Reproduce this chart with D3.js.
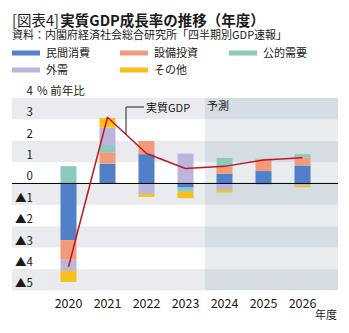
<!DOCTYPE html>
<html>
<head>
<meta charset="utf-8">
<script src="https://cdn.jsdelivr.net/npm/d3@7"></script>
<style>
  body { margin: 0; background: #fff; }
  svg { display: block; font-family: "Noto Sans CJK JP", "Noto Sans", sans-serif; }
</style>
</head>
<body>
<div id="chart"></div>
<script>
const years = ["2020", "2021", "2022", "2023", "2024", "2025", "2026"];
const privateCons = [-2.65, 0.92, 1.37, -0.19, 0.46, 0.58, 0.84];
const capex = [-0.92, 0.54, 0.62, 0, 0.33, 0.55, 0.37];
const publicDemand = [0.81, 0.34, 0, -0.2, 0.4, 0.03, 0.16];
const netExports = [-0.52, 0.82, -0.5, 1.4, -0.31, -0.06, -0.1];
const others = [-0.52, 0.45, -0.13, -0.3, -0.11, 0, -0.08];
const realGDP = [-3.9, 3.1, 1.4, 0.7, 0.8, 1.1, 1.2];
const yTicks = [3, 2, 1, 0, -1, -2, -3, -4, -5];
const forecastFrom = "2024";

const series = [
  {key: "private", name: "民間消費", color: "#4f80c8", values: privateCons},
  {key: "capex", name: "設備投資", color: "#f29a7c", values: capex},
  {key: "public", name: "公的需要", color: "#8ccabd", values: publicDemand},
  {key: "external", name: "外需", color: "#bcb6dc", values: netExports},
  {key: "other", name: "その他", color: "#f6c21a", values: others}
];

const width = 349, height = 333;
const plotLeft = 12, plotRight = 338;

const svg = d3.select("#chart").append("svg")
  .attr("width", width)
  .attr("height", height)
  .attr("viewBox", [0, 0, width, height]);

// title + source
const tag = svg.append("text").attr("x", 12).attr("y", 26).attr("font-size", 14.5).attr("fill", "#1a1a1a")
  .text("[図表4]");
const tagW = tag.node().getComputedTextLength();
svg.append("text").attr("x", 12 + tagW + 1.5).attr("y", 26).attr("font-size", 14.5)
  .attr("font-weight", "bold").attr("fill", "#1a1a1a")
  .text("実質GDP成長率の推移（年度）");
svg.append("text").attr("x", 12).attr("y", 39).attr("font-size", 11).attr("fill", "#1a1a1a")
  .text("資料：内閣府経済社会総合研究所「四半期別GDP速報」");

// legend
const legendPos = [[12, 53], [120, 53], [229, 53], [12, 70], [120, 70]];
const legend = svg.append("g")
  .selectAll("g")
  .data(series)
  .join("g")
  .attr("transform", (d, i) => `translate(${legendPos[i][0]},${legendPos[i][1]})`);
legend.append("rect").attr("x", 0).attr("y", -2.5).attr("width", 28).attr("height", 5).attr("fill", d => d.color);
legend.append("text").attr("x", 34).attr("y", 4).attr("font-size", 11).attr("fill", "#1a1a1a").text(d => d.name);

const x = d3.scaleBand()
  .domain(years)
  .range([49, 322])
  .paddingInner(0.59)
  .paddingOuter(0.295);
const y = d3.scaleLinear()
  .domain([-5, 4])
  .range([290.3, 98]);

const splitX = (x(years[years.indexOf(forecastFrom) - 1]) + x(forecastFrom) + x.bandwidth()) / 2;

// background stripes, darker in forecast area
const bands = d3.range(-5, 4);
svg.append("g")
  .selectAll("rect")
  .data(bands)
  .join("rect")
  .attr("x", plotLeft)
  .attr("y", d => y(d + 1))
  .attr("width", splitX - plotLeft)
  .attr("height", d => y(d) - y(d + 1))
  .attr("fill", d => Math.abs(d) % 2 === 1 ? "#e9ebee" : "#ffffff");
svg.append("g")
  .selectAll("rect")
  .data(bands)
  .join("rect")
  .attr("x", splitX)
  .attr("y", d => y(d + 1))
  .attr("width", plotRight - splitX)
  .attr("height", d => y(d) - y(d + 1))
  .attr("fill", d => Math.abs(d) % 2 === 1 ? "#d6dde2" : "#e8ecef");

svg.append("text").attr("x", splitX + 2).attr("y", y(4) + 12).attr("font-size", 11).attr("fill", "#1a1a1a").text("予測");

// stacked contributions
const table = years.map((yr, i) => {
  const row = {year: yr};
  series.forEach(s => row[s.key] = s.values[i]);
  return row;
});
const stacked = d3.stack()
  .keys(series.map(s => s.key))
  .offset(d3.stackOffsetDiverging)(table);

svg.append("g")
  .selectAll("g")
  .data(stacked)
  .join("g")
  .attr("fill", (d, i) => series[i].color)
  .selectAll("rect")
  .data(d => d)
  .join("rect")
  .attr("x", d => x(d.data.year))
  .attr("y", d => y(Math.max(d[0], d[1])))
  .attr("width", x.bandwidth())
  .attr("height", d => Math.abs(y(d[0]) - y(d[1])));

// zero line
svg.append("line")
  .attr("x1", plotLeft).attr("x2", plotRight)
  .attr("y1", y(0)).attr("y2", y(0))
  .attr("stroke", "#000").attr("stroke-width", 1);

// real GDP line
const line = d3.line()
  .x((d, i) => x(years[i]) + x.bandwidth() / 2)
  .y(d => y(d));
svg.append("path")
  .datum(realGDP)
  .attr("fill", "none")
  .attr("stroke", "#c4161c")
  .attr("stroke-width", 1.5)
  .attr("stroke-linejoin", "round")
  .attr("d", line);

// leader label for the GDP line
const lx = 126;
const x0 = x(years[1]) + x.bandwidth() / 2, x1 = x(years[2]) + x.bandwidth() / 2;
const ly = y(realGDP[1]) + (y(realGDP[2]) - y(realGDP[1])) * (lx - x0) / (x1 - x0);
svg.append("path")
  .attr("d", `M${lx},${ly}V107H144`)
  .attr("fill", "none")
  .attr("stroke", "#222")
  .attr("stroke-width", 1);
svg.append("text").attr("x", 146).attr("y", 111.5).attr("font-size", 11).attr("fill", "#1a1a1a").text("実質GDP");

// y axis labels sit just above their gridline
const yLabels = svg.append("g").attr("font-size", 11.5).attr("fill", "#1a1a1a").attr("text-anchor", "end");
yLabels.selectAll("text")
  .data(yTicks)
  .join("text")
  .attr("x", 33)
  .attr("y", d => y(d) - 3)
  .text(d => d < 0 ? "▲" + (-d) : d);
yLabels.append("text").attr("x", 33).attr("y", y(4) - 3).text("4");
svg.append("text").attr("x", 37).attr("y", y(4) - 3).attr("font-size", 11.5).attr("fill", "#1a1a1a").text("% 前年比");

// x axis
svg.append("g")
  .attr("transform", `translate(0,${y(-5)})`)
  .call(d3.axisBottom(x).tickSize(0).tickPadding(9))
  .call(g => g.select(".domain").remove())
  .call(g => g.selectAll("text")
    .attr("font-size", 12.5)
    .attr("font-family", "'Noto Sans CJK JP', sans-serif")
    .attr("fill", "#1a1a1a"));
svg.append("text").attr("x", 337).attr("y", 319).attr("font-size", 11).attr("text-anchor", "end").attr("fill", "#1a1a1a").text("年度");
</script>
</body>
</html>
